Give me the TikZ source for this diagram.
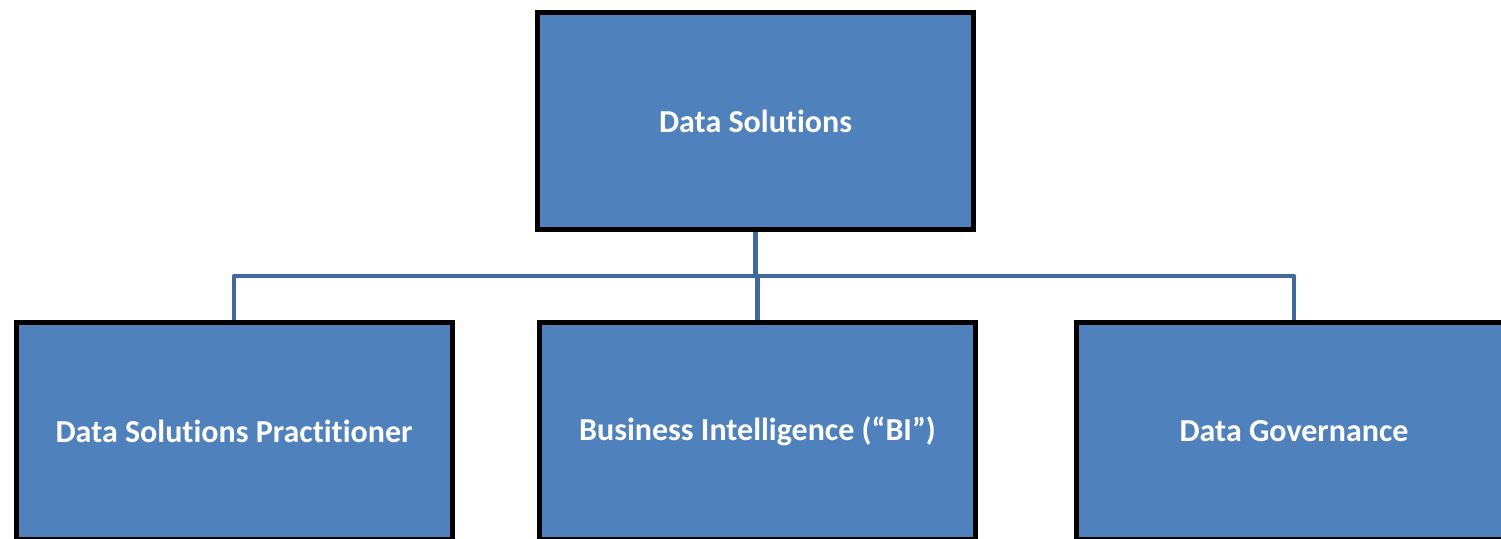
\documentclass[tikz,border=0pt]{standalone}
\usepackage{fontspec}
\setmainfont{Carlito}[Ligatures={NoCommon,TeX}]
\definecolor{boxblue}{HTML}{4F81BD}
\definecolor{linkblue}{HTML}{3F6A9B}
\tikzset{
    unitbox/.style={draw=black, line width=5pt, fill=boxblue, rectangle,
        minimum width=436pt, minimum height=217pt, inner sep=0pt,
        text=white, font=\bfseries\fontsize{32}{38}\selectfont},
    link/.style={draw=linkblue, line width=4.5pt}
}
\begin{document}
\begin{tikzpicture}[x=1pt,y=-1pt]

    % Fix the frame of the picture
    \useasboundingbox (0,0) rectangle (1501,538);
    \clip (0,0) rectangle (1501,538);

    % Define the level of the horizontal bar
    \coordinate (bar) at (0,276);

    % Draw the top box
    \node[unitbox] (DS) at (755.5,121) {Data Solutions};

    % Draw the three boxes below it
    \node[unitbox] (DSP) at (234,431.25) {Data Solutions Practitioner};
    \node[unitbox] (BI) at (757.5,431.25) {Business Intelligence (“BI”)};
    \node[unitbox] (DG) at (1294,431.25) {Data Governance};

    % Draw the stem from the top box down to the bar
    \draw[link] (DS.south) -- (DS.south |- bar);

    % Draw the bar and the drops to the lower boxes
    \draw[link, line join=round] (DSP.north) -- (DSP.north |- bar) -- (DG.north |- bar) -- (DG.north);
    \draw[link] (BI.north) -- (BI.north |- bar);

\end{tikzpicture}
\end{document}
